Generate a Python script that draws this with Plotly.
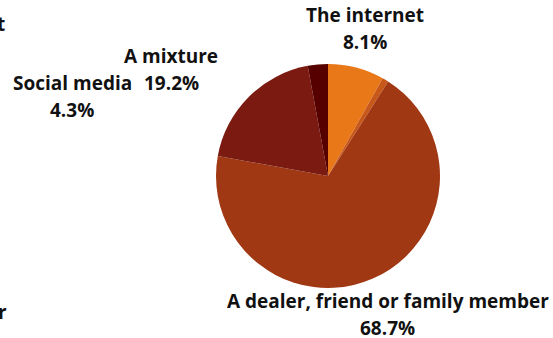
import plotly.graph_objects as go

W, H = 553, 338

# Slices (clockwise from 12 o'clock), share values
categories = ["The internet", "Other", "A dealer, friend or family member", "A mixture", "Social media"]
shares = [8.1, 0.9, 68.7, 19.2, 2.9]
colors = ["#E97818", "#C8581A", "#A03814", "#7A1A10", "#560000"]

# Data labels as printed on the chart
label_names = ["The internet", "A dealer, friend or family member", "A mixture", "Social media"]
label_pcts = ["8.1%", "68.7%", "19.2%", "4.3%"]
# clipped labels at the left border
clipped = ["t", "r"]

fig = go.Figure(go.Pie(
    labels=categories, values=shares, sort=False, direction="clockwise", rotation=0,
    marker=dict(colors=colors, line=dict(width=0)), textinfo="none", hoverinfo="label+percent",
    showlegend=False,
    domain=dict(x=[(328 - 112) / W, (328 + 112) / W], y=[1 - 288 / H, 1 - 64 / H]),
))

font = dict(family="Open Sans", size=19, color="#111111")

def ann(text, x, y, xanchor="center"):
    fig.add_annotation(text="<b>%s</b>" % text, x=x / W, y=1 - y / H, xref="paper", yref="paper",
                       xanchor=xanchor, yanchor="middle", showarrow=False, font=font)

label_pos = [(365, 15, 42), (388, 301, 328), (171, 56, 83), (72, 83, 110)]
for name, pct, (x, y1, y2) in zip(label_names, label_pcts, label_pos):
    ann(name, x, y1)
    ann(pct, x, y2)

ann(clipped[0], 7, 24, "right")
ann(clipped[1], 9, 312, "right")

fig.update_layout(width=W, height=H, margin=dict(l=0, r=0, t=0, b=0),
                  paper_bgcolor="white", plot_bgcolor="white")
fig.write_html("out.html", config={"displayModeBar": False},
               post_script="document.body.style.margin='0';")
